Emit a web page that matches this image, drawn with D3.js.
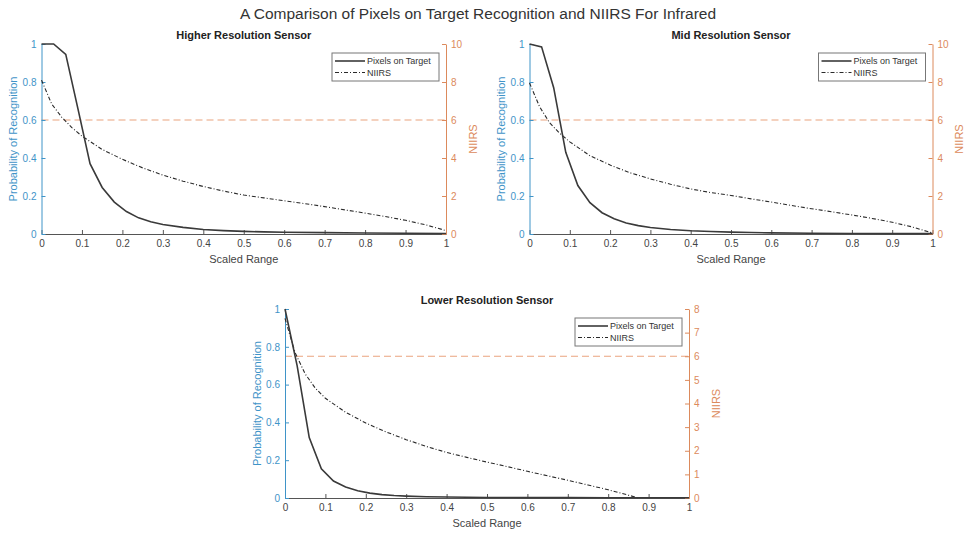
<!DOCTYPE html>
<html><head><meta charset="utf-8">
<script src="https://cdn.jsdelivr.net/npm/d3@7"></script>
<style>body{margin:0;background:#fff}svg{display:block;font-family:"Liberation Sans",Arial,sans-serif}</style>
</head><body><svg id="c" width="967" height="536"></svg>
<script>
// ---------- data ----------
const mainTitle = "A Comparison of Pixels on Target Recognition and NIIRS For Infrared";
const panelTitles = ["Higher Resolution Sensor", "Mid Resolution Sensor", "Lower Resolution Sensor"];
const seriesNames = ["Pixels on Target", "NIIRS"];
const xTicks = [0,0.1,0.2,0.3,0.4,0.5,0.6,0.7,0.8,0.9,1];
const leftTicks = [0,0.2,0.4,0.6,0.8,1];
const rightTicksHigh = [0,2,4,6,8,10];
const rightTicksLow = [0,1,2,3,4,5,6,7,8];
const niirsThreshold = 6;

const potX = [0,0.03,0.06,0.09,0.12,0.15,0.18,0.21,0.24,0.27,0.30,0.35,0.40,0.45,0.50,0.55,0.60,0.70,0.80,0.90,1.00];
const potHigher = [1,1,0.945,0.66,0.37,0.245,0.168,0.118,0.085,0.064,0.05,0.035,0.024,0.018,0.014,0.011,0.009,0.007,0.005,0.004,0.003];
const potMid    = [1,0.985,0.77,0.43,0.255,0.165,0.112,0.08,0.058,0.044,0.034,0.024,0.017,0.013,0.01,0.008,0.006,0.004,0.003,0.002,0.002];
const potLower  = [1,0.70,0.32,0.155,0.09,0.058,0.038,0.026,0.018,0.013,0.01,0.007,0.005,0.004,0.003,0.003,0.002,0.002,0.001,0.001,0.001];

const niirsX = [0,0.025,0.05,0.075,0.1,0.15,0.2,0.25,0.3,0.35,0.4,0.45,0.5,0.55,0.6,0.65,0.7,0.75,0.8,0.85,0.9,0.95,1];
const niirsHigher = [8.1,6.85,6.15,5.6,5.15,4.45,3.93,3.48,3.1,2.78,2.5,2.26,2.05,1.9,1.75,1.6,1.44,1.27,1.1,0.92,0.72,0.48,0.18];
const niirsMid    = [7.95,6.7,5.85,5.3,4.85,4.12,3.63,3.22,2.9,2.62,2.37,2.18,2.03,1.85,1.68,1.5,1.33,1.17,1.0,0.82,0.62,0.37,0.05];
const niirsLowerX = [0,0.025,0.05,0.075,0.1,0.15,0.2,0.25,0.3,0.35,0.4,0.45,0.5,0.55,0.6,0.65,0.7,0.75,0.8,0.85,0.875];
const niirsLower  = [7.6,6.15,5.25,4.65,4.22,3.63,3.17,2.8,2.47,2.18,1.93,1.72,1.52,1.33,1.13,0.94,0.75,0.55,0.35,0.12,0];

// ---------- style ----------
const C_LEFT = "#3f94c8", C_RIGHT = "#dc8a5c", C_AX = "#555", C_TXT = "#444", C_LINE = "#3a3a3a", C_THR = "#eaa47f";
const svg = d3.select("#c");

svg.append("text").attr("x", 478).attr("y", 18.5).attr("text-anchor","middle")
  .attr("font-size", 15.5).attr("fill", "#333").text(mainTitle);

function panel(o) {
  const x = d3.scaleLinear().domain([0,1]).range([o.x0, o.x1]);
  const yl = d3.scaleLinear().domain([0,1]).range([o.y0, o.y1]);
  const yr = d3.scaleLinear().domain([0, o.rmax]).range([o.y0, o.y1]);
  const g = svg.append("g");

  // threshold line
  g.append("line").attr("x1", x(0)).attr("x2", x(1)).attr("y1", yr(niirsThreshold)).attr("y2", yr(niirsThreshold))
    .attr("stroke", C_THR).attr("stroke-width", 1.1).attr("stroke-dasharray", "7,4");

  // bottom axis
  const xa = g.append("g").attr("transform", `translate(0,${o.y0})`)
    .call(d3.axisBottom(x).tickValues(xTicks).tickSizeInner(-4).tickSizeOuter(0).tickPadding(6).tickFormat(d3.format("~g")));
  xa.select(".domain").attr("stroke", C_AX);
  xa.selectAll(".tick line").attr("stroke", C_AX);
  xa.selectAll("text").attr("fill", C_TXT).attr("font-size", 10).attr("font-family", "Liberation Sans, Arial");

  // left axis
  const la = g.append("g").attr("transform", `translate(${o.x0},0)`)
    .call(d3.axisLeft(yl).tickValues(leftTicks).tickSizeInner(-4).tickSizeOuter(0).tickPadding(5).tickFormat(d3.format("~g")));
  la.select(".domain").attr("stroke", C_LEFT);
  la.selectAll(".tick line").attr("stroke", C_LEFT);
  la.selectAll("text").attr("fill", C_LEFT).attr("font-size", 10).attr("font-family", "Liberation Sans, Arial");

  // right axis
  const ra = g.append("g").attr("transform", `translate(${o.x1},0)`)
    .call(d3.axisRight(yr).tickValues(o.rticks).tickSizeInner(-4).tickSizeOuter(0).tickPadding(5).tickFormat(d3.format("~g")));
  ra.select(".domain").attr("stroke", C_RIGHT);
  ra.selectAll(".tick line").attr("stroke", C_RIGHT);
  ra.selectAll("text").attr("fill", C_RIGHT).attr("font-size", 10).attr("font-family", "Liberation Sans, Arial");

  // curves
  const lineL = d3.line().x(d => x(d[0])).y(d => yl(d[1]));
  const lineR = d3.line().x(d => x(d[0])).y(d => yr(d[1]));
  g.append("path").attr("d", lineR(d3.zip(o.nx, o.nv))).attr("fill","none")
    .attr("stroke", "#2a2a2a").attr("stroke-width", 1.1).attr("stroke-dasharray", "4,2,1,2");
  g.append("path").attr("d", lineL(d3.zip(potX, o.pv))).attr("fill","none")
    .attr("stroke", C_LINE).attr("stroke-width", 1.6);

  // titles and labels
  const cx = (o.x0 + o.x1) / 2;
  g.append("text").attr("x", cx).attr("y", o.y1 - 5).attr("text-anchor","middle")
    .attr("font-size", 11).attr("font-weight","bold").attr("fill","#222").text(o.title);
  g.append("text").attr("x", cx).attr("y", o.y0 + 29).attr("text-anchor","middle")
    .attr("font-size", 11).attr("fill", C_TXT).text("Scaled Range");
  g.append("text").attr("transform", `translate(${o.x0 - 24.5},${(o.y0+o.y1)/2}) rotate(-90)`).attr("text-anchor","middle")
    .attr("font-size", 11).attr("fill", C_LEFT).text("Probability of Recognition");
  g.append("text").attr("transform", `translate(${o.x1 + 30.5},${(o.y0+o.y1)/2}) rotate(-90)`).attr("text-anchor","middle")
    .attr("font-size", 11).attr("fill", C_RIGHT).text("NIIRS");

  // legend
  const lx = o.x1 - 114, ly = o.y1 + 9;
  g.append("rect").attr("x", lx).attr("y", ly).attr("width", 107).attr("height", 28)
    .attr("fill","#fff").attr("stroke","#777").attr("stroke-width", 1);
  g.append("line").attr("x1", lx + 3).attr("x2", lx + 33).attr("y1", ly + 8).attr("y2", ly + 8)
    .attr("stroke", C_LINE).attr("stroke-width", 1.6);
  g.append("line").attr("x1", lx + 3).attr("x2", lx + 33).attr("y1", ly + 19.5).attr("y2", ly + 19.5)
    .attr("stroke", "#2a2a2a").attr("stroke-width", 1.1).attr("stroke-dasharray", "4,2,1,2");
  g.append("text").attr("x", lx + 35).attr("y", ly + 11).attr("font-size", 9).attr("fill","#333").text(seriesNames[0]);
  g.append("text").attr("x", lx + 35).attr("y", ly + 22.5).attr("font-size", 9).attr("fill","#333").text(seriesNames[1]);
}

panel({x0: 41.5, x1: 446, y0: 234, y1: 44, rmax: 10, rticks: rightTicksHigh, title: panelTitles[0], pv: potHigher, nx: niirsX, nv: niirsHigher});
panel({x0: 529.5, x1: 932.5, y0: 234, y1: 44, rmax: 10, rticks: rightTicksHigh, title: panelTitles[1], pv: potMid, nx: niirsX, nv: niirsMid});
panel({x0: 285, x1: 689, y0: 498, y1: 309, rmax: 8, rticks: rightTicksLow, title: panelTitles[2], pv: potLower, nx: niirsLowerX, nv: niirsLower});
</script></body></html>
